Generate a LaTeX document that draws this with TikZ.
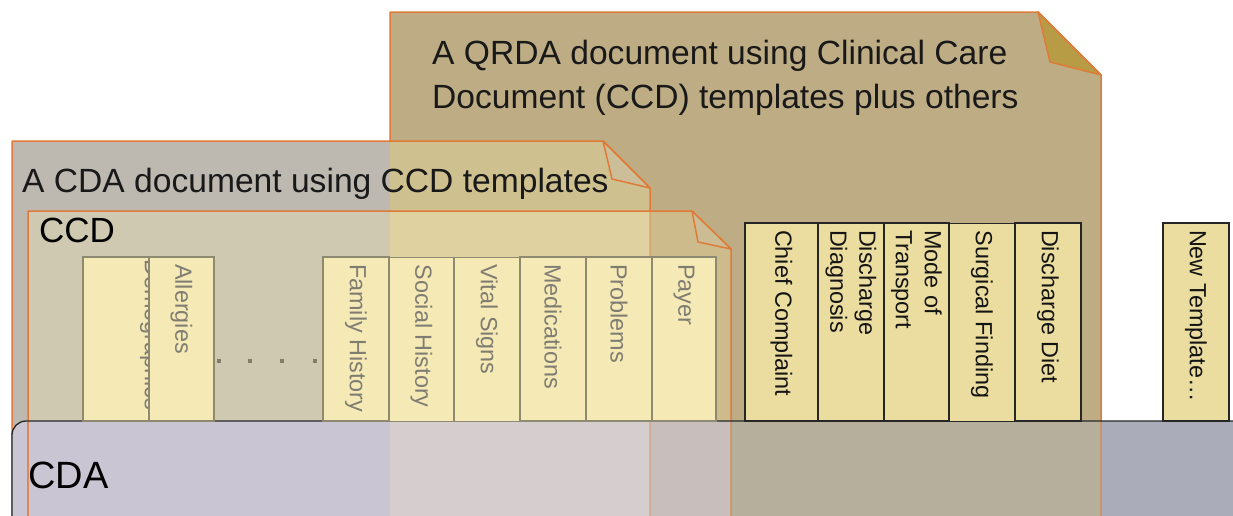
\documentclass[tikz,border=0pt]{standalone}
\usepackage{fontspec}
\setmainfont{Liberation Sans}
\definecolor{qC}{HTML}{BEAD84}
\definecolor{cC}{HTML}{BDB9B1}
\definecolor{qcC}{HTML}{CFC08F}
\definecolor{dcC}{HTML}{CFC9B2}
\definecolor{dcqC}{HTML}{E0D1A1}
\definecolor{dqC}{HTML}{CDBB8C}
\definecolor{bC}{HTML}{ABACBA}
\definecolor{bqC}{HTML}{B6AF9B}
\definecolor{bcC}{HTML}{C9C5D2}
\definecolor{bcqC}{HTML}{D6CECE}
\definecolor{bdqC}{HTML}{C8BEBB}
\definecolor{edgeC}{HTML}{E07A38}
\definecolor{qfoldC}{HTML}{B89B45}
\definecolor{cfoldC}{HTML}{CCBE98}
\definecolor{dfoldC}{HTML}{CBBC94}
\definecolor{tlC}{HTML}{F5EAB6}
\definecolor{tlEdge}{HTML}{8E8A72}
\definecolor{tlText}{HTML}{7F7C72}
\definecolor{trC}{HTML}{EADD9F}
\begin{document}
\begin{tikzpicture}[x=1pt,y=-1pt,
  docedge/.style={draw=edgeC, line width=1.5pt, line join=round},
  faint/.style={draw=edgeC, line width=1.5pt, draw opacity=#1},
  tbox/.style={rotate=-90, inner sep=0pt, align=flush left,
    font=\fontsize{23.4}{29}\selectfont},
  tlbox/.style={tbox, draw=tlEdge, fill=tlC, line width=1.1pt, text=tlText,
    minimum width=164pt, minimum height=#1, text width=150pt},
  trbox/.style={tbox, draw=black!85, fill=trC, line width=1.1pt, text=black!92,
    minimum width=198pt, minimum height=#1, text width=184pt},
  title/.style={anchor=base west, inner sep=0pt, text=black!90,
    font=\fontsize{33.6}{44}\selectfont},
  dotsq/.style={fill=tlEdge!90!black}]
\useasboundingbox (0,0) rectangle (1233,515);
% QRDA document
\fill[qC] (390,12) -- (1038,12) -- (1101,75) -- (1101,530) -- (390,530) -- cycle;
\draw[docedge] (390,530) -- (390,12) -- (1038,12) -- (1101,75) -- (1101,530);
% CDA document
\fill[cC] (12,141) -- (603,141) -- (650,188) -- (650,530) -- (12,530) -- cycle;
\begin{scope}
  \clip (390,12) -- (1038,12) -- (1101,75) -- (1101,530) -- (390,530) -- cycle;
  \fill[qcC] (12,141) -- (603,141) -- (650,188) -- (650,530) -- (12,530) -- cycle;
\end{scope}
\draw[docedge] (12,530) -- (12,141) -- (603,141) -- (650,188) -- (650,530);
% CCD document
\fill[dqC] (28,211) -- (692,211) -- (731,249) -- (731,530) -- (28,530) -- cycle;
\begin{scope}
  \clip (12,141) -- (603,141) -- (650,188) -- (650,530) -- (12,530) -- cycle;
  \fill[dcC] (28,211) -- (692,211) -- (731,249) -- (731,530) -- (28,530) -- cycle;
  \clip (390,12) -- (1038,12) -- (1101,75) -- (1101,530) -- (390,530) -- cycle;
  \fill[dcqC] (28,211) -- (692,211) -- (731,249) -- (731,530) -- (28,530) -- cycle;
\end{scope}
\draw[docedge] (28,530) -- (28,211) -- (692,211) -- (731,249) -- (731,530);
\draw[faint=0.35] (650,211) -- (650,421);
% folded corners
\filldraw[docedge, fill=qfoldC] (1038,12) -- (1050,62) -- (1101,75) -- cycle;
\filldraw[docedge, fill=cfoldC] (603,141) -- (612,179) -- (650,188) -- cycle;
\filldraw[docedge, fill=dfoldC] (692,211) -- (698,242) -- (731,249) -- cycle;
% CDA bar
\begin{scope}
  \clip[rounded corners=14pt] (1260,421) -- (12,421) -- (12,540) -- (1260,540) -- cycle;
  \fill[bC] (0,400) rectangle (1260,540);
  \begin{scope}
    \clip (390,12) -- (1038,12) -- (1101,75) -- (1101,530) -- (390,530) -- cycle;
    \fill[bqC] (0,400) rectangle (1260,540);
    \clip (28,211) -- (692,211) -- (731,249) -- (731,530) -- (28,530) -- cycle;
    \fill[bdqC] (0,400) rectangle (1260,540);
  \end{scope}
  \begin{scope}
    \clip (12,141) -- (603,141) -- (650,188) -- (650,530) -- (12,530) -- cycle;
    \fill[bcC] (0,400) rectangle (1260,540);
    \clip (390,12) -- (1038,12) -- (1101,75) -- (1101,530) -- (390,530) -- cycle;
    \fill[bcqC] (0,400) rectangle (1260,540);
  \end{scope}
\end{scope}
\draw[faint=0.8] (28,421) -- (28,530);
\draw[faint=0.3] (650,421) -- (650,530);
\draw[faint=0.5] (731,421) -- (731,530);
\draw[faint=0.5] (1101,421) -- (1101,530);
\draw[black!85, line width=1.3pt, rounded corners=14pt] (1260,421) -- (12,421) -- (12,540);
% CCD templates
\node[tlbox=66pt] (dem) at (116,339) {};
\node[tbox, text=tlText, anchor=west] (demt) at (151,259) {Demographics};
\node[tlbox=65pt] (all) at (181.5,339) {Allergies};
\node[tlbox=66pt] (fam) at (356,339) {Family History};
\node[tlbox=65pt] (soc) at (421.5,339.5) {Social History};
\node[tlbox=66pt] (vit) at (487,339.5) {Vital Signs};
\node[tlbox=66pt] (med) at (553,339) {Medications};
\node[tlbox=66pt] (prob) at (619,339) {Problems};
\node[tlbox=64pt] (pay) at (684,339) {Payer};
\foreach \dx in {219,250,282,315} \fill[dotsq] (\dx-2,359) rectangle (\dx+2,363);
% QRDA templates
\node[trbox=73pt] (chief) at (781.5,322) {Chief Complaint};
\node[trbox=66pt] (ddx) at (851,322) {Discharge\\Diagnosis};
\node[trbox=65pt] (mode) at (916.5,322) {Mode of\\Transport};
\node[trbox=66pt] (surg) at (982,322.5) {Surgical Finding};
\node[trbox=66pt] (diet) at (1048,322) {Discharge Diet};
\node[trbox=66pt] (newt) at (1196,322) {New Template\ldots};
% titles
\node[title] (qt1) at (432,64) {A QRDA document using Clinical Care};
\node[title] (qt2) at (432,108) {Document (CCD) templates plus others};
\node[title] (cdat) at (22,192) {A CDA document using CCD templates};
\node[anchor=base west, inner sep=0pt, font=\fontsize{35}{40}\selectfont] (ccdl) at (39,242) {CCD};
\node[anchor=base west, inner sep=0pt, font=\fontsize{38}{42}\selectfont] (cdal) at (28,488) {CDA};
\end{tikzpicture}
\end{document}
